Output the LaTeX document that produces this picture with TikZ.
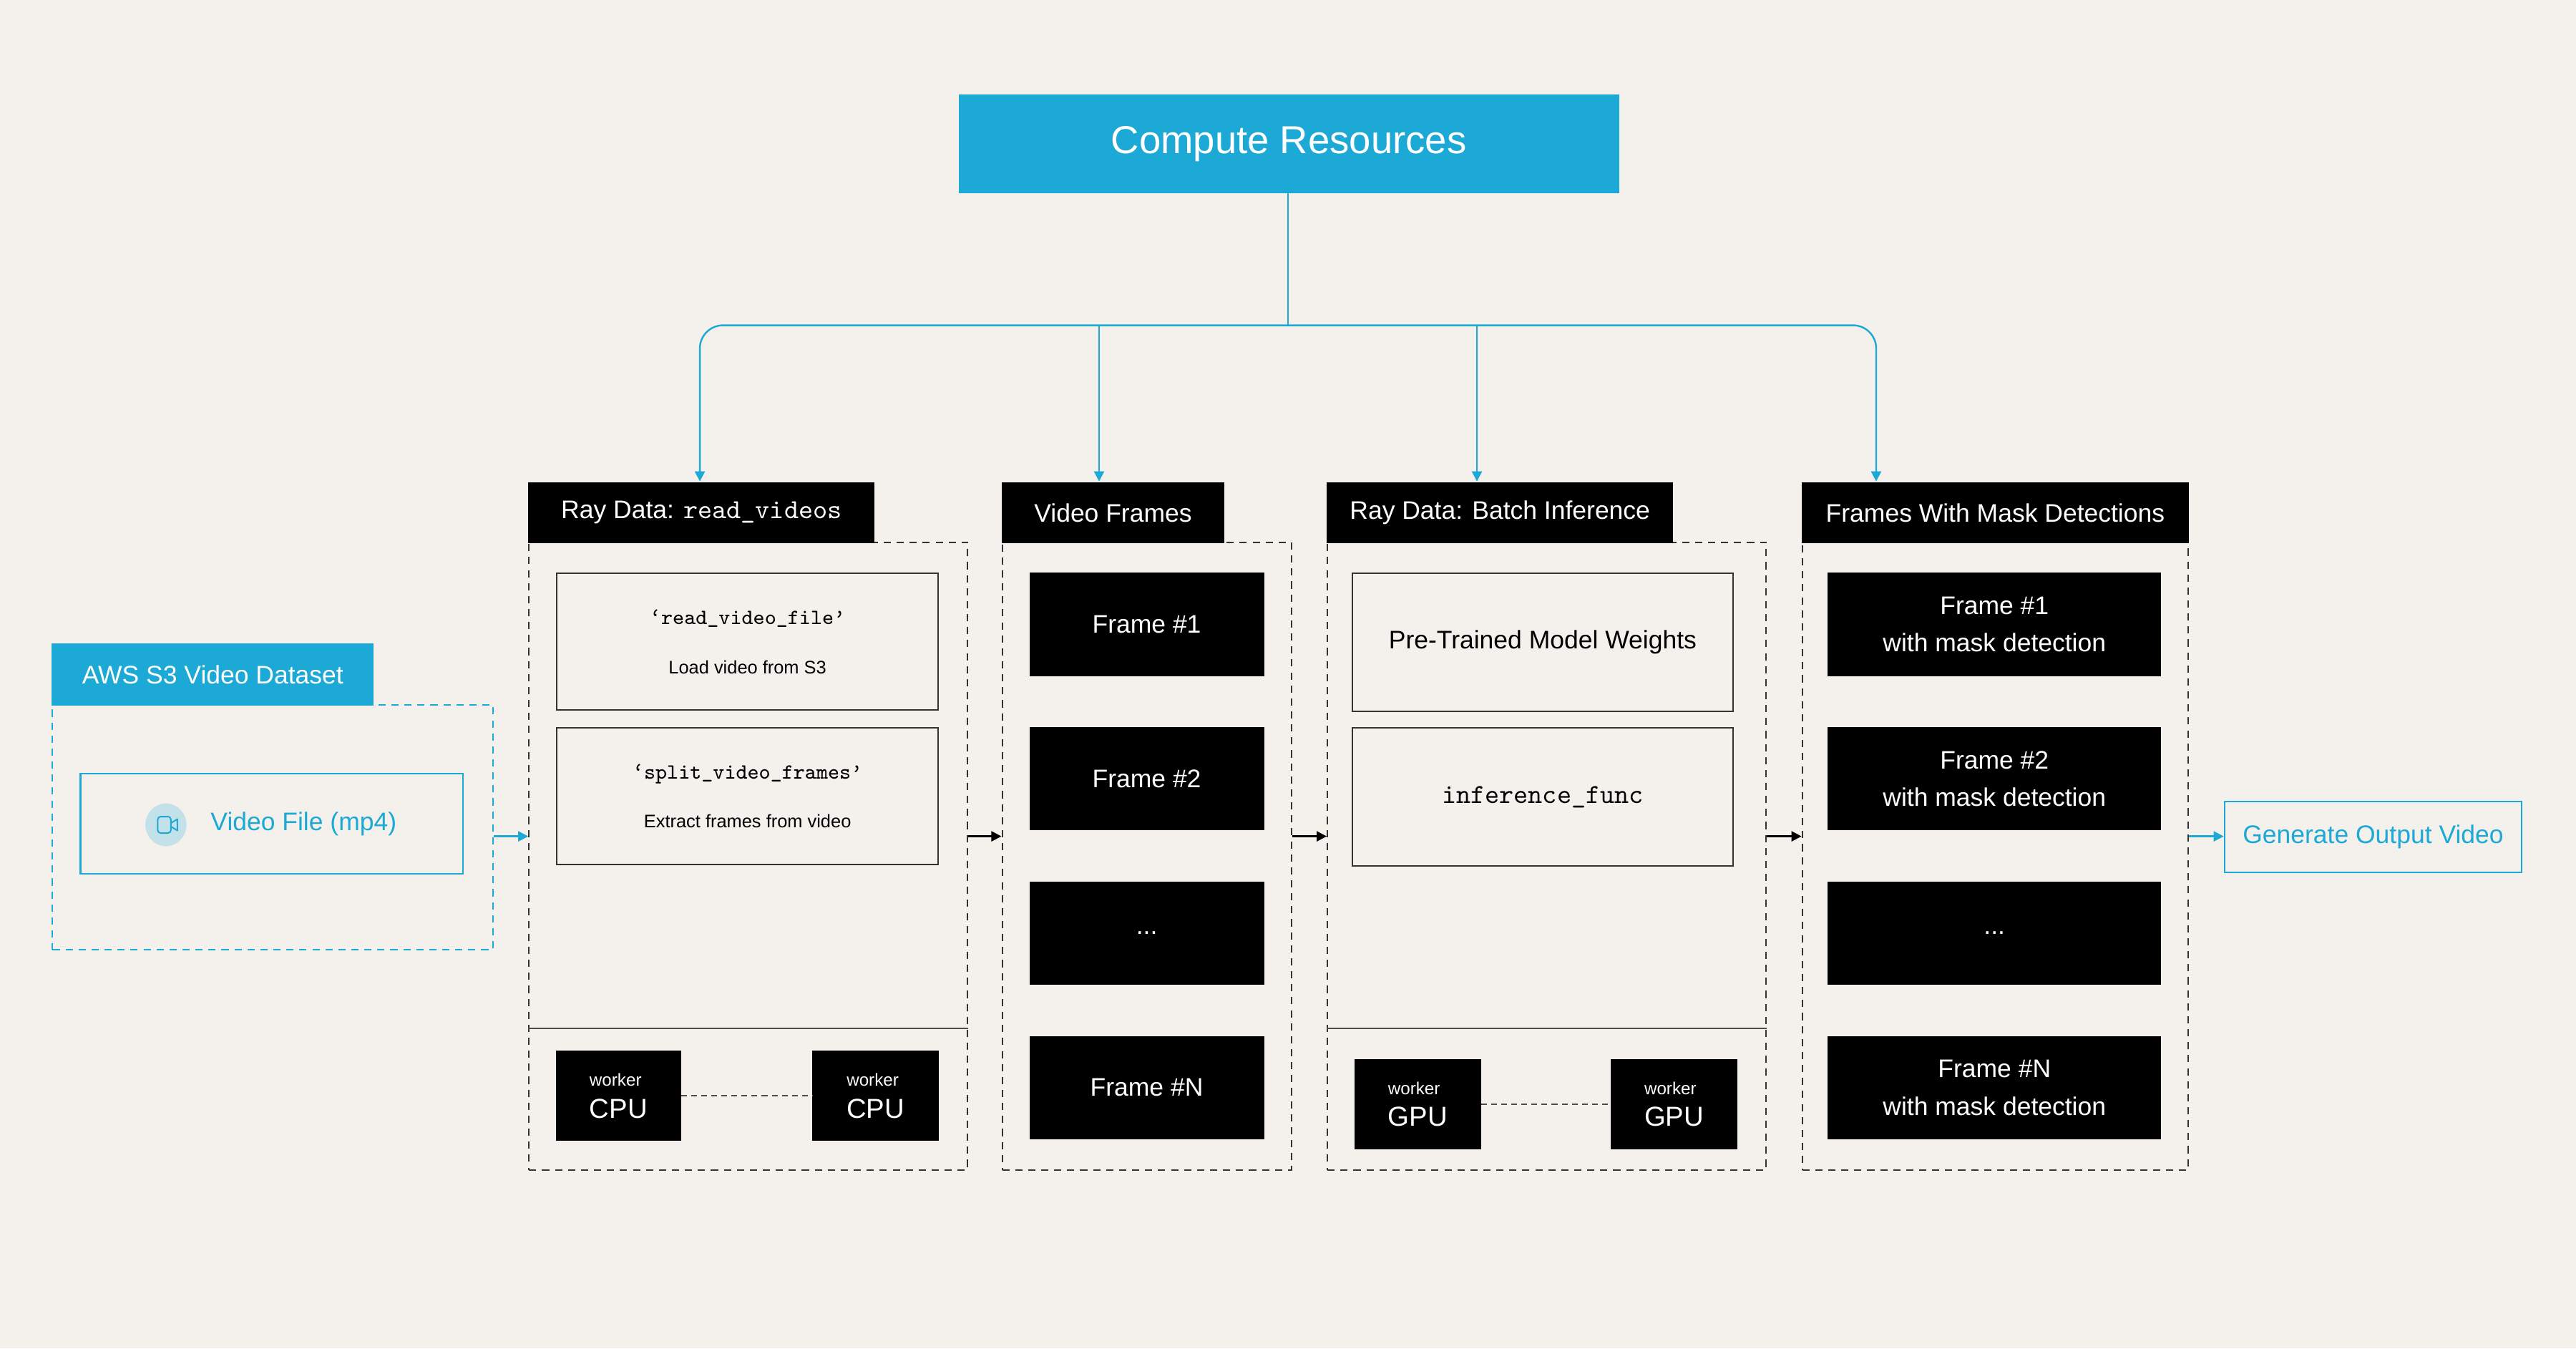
\documentclass[tikz,border=0pt]{standalone}
\usepackage{fontspec}
\setmainfont{Liberation Sans}
\newcommand{\codefont}{\ttfamily}
\usetikzlibrary{arrows.meta}
\definecolor{cy}{HTML}{1DA9D6}
\definecolor{bg}{HTML}{F4F1ED}
\definecolor{iconbg}{HTML}{C2E1E9}
\newcommand{\bx}[7]{\node[#6, minimum width={(#4-#2)*0.02cm}, minimum height={(#5-#3)*0.02cm}] (#1) at ({(#2+#4)/2},{(#3+#5)/2}) {#7};}
\tikzset{
 base/.style={draw, rectangle, inner sep=0pt, line width=0.5pt, align=center},
 hdr/.style={base, fill=black, draw=black, text=white, font=\fontsize{8.8}{10}\selectfont},
 grp/.style={base, draw=black!80, dash pattern=on 2.5pt off 2pt},
 wbox/.style={base, draw=black!80, fill=none},
 bbox/.style={base, fill=black, text=white, font=\fontsize{8.8}{13}\selectfont},
 wk/.style={base, fill=black, text=white, align=left},
 cybox/.style={base, draw=cy, text=cy, font=\fontsize{8.8}{10}\selectfont},
 arr/.style={-{Triangle[length=3.5pt,width=3.5pt]}, line width=0.6pt},
}
\newcommand{\wtxt}[1]{{\fontsize{6}{7}\selectfont worker}\\[-1pt]{\fontsize{9.5}{11}\selectfont #1}}
\begin{document}
\begin{tikzpicture}[x=0.02cm,y=-0.02cm]
\fill[bg] (0,0) rectangle (1568,820.6);
\useasboundingbox (0,0) rectangle (1568,820.6);

\bx{cr}{584}{58}{985}{117}{base, fill=cy, draw=cy, text=white, font=\fontsize{13.5}{15}\selectfont}{Compute Resources}

% group 1
\bx{g1}{322}{330}{589}{712}{grp}{}
\bx{h1}{322}{294}{532}{330}{hdr}{Ray Data: {\codefont\fontsize{9.5}{10}\selectfont read\_videos}}
\bx{r1}{339}{349}{571}{432}{wbox}{{\codefont\fontsize{7.5}{9}\selectfont ‘read\_video\_file’}\\[5pt]{\fontsize{6.3}{8}\selectfont Load video from S3}}
\bx{r2}{339}{443}{571}{526}{wbox}{{\codefont\fontsize{7.5}{9}\selectfont ‘split\_video\_frames’}\\[5pt]{\fontsize{6.3}{8}\selectfont Extract frames from video}}
\draw[black!70, line width=0.5pt] (g1.west |- 0,626) -- (g1.east |- 0,626);
\bx{c1}{339}{640}{414}{694}{wk}{\wtxt{CPU}}
\bx{c2}{495}{640}{571}{694}{wk}{\wtxt{CPU}}
\draw[black!70, dash pattern=on 2pt off 1.5pt, line width=0.5pt] (c1) -- (c2);

% group 2
\bx{g2}{610}{330}{786}{712}{grp}{}
\bx{h2}{610}{294}{745}{330}{hdr}{Video Frames}
\bx{f1}{627}{349}{769}{411}{bbox}{Frame \#1}
\bx{f2}{627}{443}{769}{505}{bbox}{Frame \#2}
\bx{f3}{627}{537}{769}{599}{bbox}{...}
\bx{f4}{627}{631}{769}{693}{bbox}{Frame \#N}

% group 3
\bx{g3}{808}{330}{1075}{712}{grp}{}
\bx{h3}{808}{294}{1018}{330}{hdr}{Ray Data: Batch Inference}
\bx{m1}{823}{349}{1055}{433}{wbox, font=\fontsize{8.8}{10}\selectfont}{Pre-Trained Model Weights}
\bx{m2}{823}{443}{1055}{527}{wbox}{{\codefont\fontsize{9.5}{10}\selectfont inference\_func}}
\draw[black!70, line width=0.5pt] (g3.west |- 0,626) -- (g3.east |- 0,626);
\bx{u1}{825}{645}{901}{699}{wk}{\wtxt{GPU}}
\bx{u2}{981}{645}{1057}{699}{wk}{\wtxt{GPU}}
\draw[black!70, dash pattern=on 2pt off 1.5pt, line width=0.5pt] (u1) -- (u2);

% group 4
\bx{g4}{1097}{330}{1332}{712}{grp}{}
\bx{h4}{1097}{294}{1332}{330}{hdr}{Frames With Mask Detections}
\bx{k1}{1113}{349}{1315}{411}{bbox}{Frame \#1\\with mask detection}
\bx{k2}{1113}{443}{1315}{505}{bbox}{Frame \#2\\with mask detection}
\bx{k3}{1113}{537}{1315}{599}{bbox}{...}
\bx{k4}{1113}{631}{1315}{693}{bbox}{Frame \#N\\with mask detection}

% AWS
\bx{ga}{32}{429}{300}{578}{grp, draw=cy}{}
\bx{ha}{32}{392}{227}{429}{hdr, fill=cy, draw=cy}{AWS S3 Video Dataset}
\bx{vf}{49}{471}{282}{532}{cybox}{\hspace{22pt}Video File (mp4)}
\fill[iconbg] (101,502) ellipse (12.5 and 13);
\draw[cy, line width=0.5pt, rounded corners=1pt] (96,497) rectangle (104,507);
\draw[cy, line width=0.5pt, line join=round] (104,501) -- (108,498.5) -- (108,505.5) -- (104,503);

\bx{go}{1354}{488}{1535}{531}{cybox}{Generate Output Video}

% connectors
\coordinate (j) at (784,198);
\coordinate (t1) at (426,293);
\coordinate (t2) at (669,293);
\coordinate (t3) at (899,293);
\coordinate (t4) at (1142,293);
\draw[cy, line width=0.6pt] (cr.south -| j) -- (j);
\draw[cy, arr, rounded corners=8] (j) -| (t1);
\draw[cy, arr, rounded corners=8] (j) -| (t4);
\draw[cy, arr] (t2 |- j) -- (t2);
\draw[cy, arr] (t3 |- j) -- (t3);

\draw[cy, arr] (ga.east |- 0,509) -- (g1.west |- 0,509);
\draw[arr] (g1.east |- 0,509) -- (g2.west |- 0,509);
\draw[arr] (g2.east |- 0,509) -- (g3.west |- 0,509);
\draw[arr] (g3.east |- 0,509) -- (g4.west |- 0,509);
\draw[cy, arr] (g4.east |- 0,509) -- (go.west |- 0,509);
\end{tikzpicture}
\end{document}
